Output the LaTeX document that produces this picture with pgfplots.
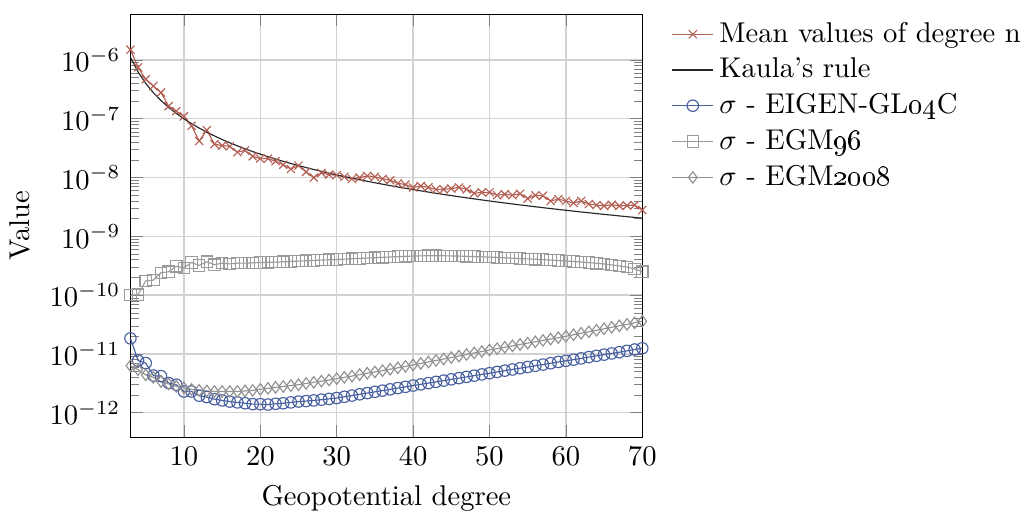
\documentclass[border=0pt]{standalone}
\usepackage{pgfplots}
\usepackage{pgfplotstable}
\pgfplotsset{compat=1.18}
\definecolor{cred}{RGB}{180,96,84}
\definecolor{cblue}{RGB}{72,96,160}
\definecolor{cgray}{RGB}{155,155,155}
\definecolor{cgrayd}{RGB}{145,145,145}
\pgfplotstableread{
n mean kaula eigen egm96 egm08
3 1.5e-6 1.111e-6 1.84e-11 1.00e-10 6.3e-12
4 7.5e-7 6.250e-7 7.7e-12 1.02e-10 5.4e-12
5 4.7e-7 4.000e-7 7.0e-12 1.75e-10 4.4e-12
6 3.6e-7 2.778e-7 4.3e-12 1.80e-10 4.0e-12
7 2.8e-7 2.041e-7 4.2e-12 2.40e-10 3.4e-12
8 1.64e-7 1.563e-7 3.2e-12 2.50e-10 3.1e-12
9 1.35e-7 1.235e-7 3.0e-12 3.10e-10 2.8e-12
10 1.1e-7 1.000e-7 2.3e-12 2.90e-10 2.65e-12
11 7.6e-8 8.264e-8 2.3e-12 3.60e-10 2.5e-12
12 4.2e-8 6.944e-8 1.95e-12 3.20e-10 2.4e-12
13 6.4e-8 5.917e-8 1.85e-12 3.70e-10 2.35e-12
14 3.7e-8 5.102e-8 1.7e-12 3.30e-10 2.3e-12
15 3.5e-8 4.444e-8 1.62e-12 3.50e-10 2.3e-12
16 3.4e-8 3.906e-8 1.55e-12 3.40e-10 2.3e-12
17 2.7e-8 3.460e-8 1.5e-12 3.50e-10 2.3e-12
18 2.9e-8 3.086e-8 1.45e-12 3.50e-10 2.35e-12
19 2.3e-8 2.770e-8 1.4e-12 3.55e-10 2.4e-12
20 2.1e-8 2.500e-8 1.4e-12 3.60e-10 2.5e-12
21 2.1e-8 2.268e-8 1.38e-12 3.62e-10 2.6e-12
22 1.9e-8 2.066e-8 1.42e-12 3.65e-10 2.7e-12
23 1.65e-8 1.890e-8 1.45e-12 3.70e-10 2.8e-12
24 1.4e-8 1.736e-8 1.5e-12 3.75e-10 2.9e-12
25 1.6e-8 1.600e-8 1.55e-12 3.80e-10 3.0e-12
26 1.25e-8 1.479e-8 1.58e-12 3.85e-10 3.15e-12
27 1.0e-8 1.372e-8 1.62e-12 3.90e-10 3.3e-12
28 1.2e-8 1.276e-8 1.67e-12 3.95e-10 3.45e-12
29 1.12e-8 1.189e-8 1.72e-12 4.00e-10 3.6e-12
30 1.1e-8 1.111e-8 1.78e-12 4.05e-10 3.8e-12
31 1.03e-8 1.041e-8 1.87e-12 4.10e-10 4.0e-12
32 9.5e-9 9.766e-9 1.96e-12 4.16e-10 4.2e-12
33 1.0e-8 9.183e-9 2.06e-12 4.22e-10 4.45e-12
34 1.07e-8 8.651e-9 2.16e-12 4.28e-10 4.7e-12
35 1.03e-8 8.163e-9 2.27e-12 4.34e-10 4.95e-12
36 9.5e-9 7.716e-9 2.38e-12 4.40e-10 5.2e-12
37 9.0e-9 7.305e-9 2.5e-12 4.46e-10 5.5e-12
38 8.0e-9 6.925e-9 2.63e-12 4.52e-10 5.8e-12
39 7.6e-9 6.575e-9 2.76e-12 4.58e-10 6.15e-12
40 6.8e-9 6.250e-9 2.9e-12 4.63e-10 6.5e-12
41 7.2e-9 5.949e-9 3.04e-12 4.66e-10 6.9e-12
42 6.8e-9 5.669e-9 3.19e-12 4.68e-10 7.3e-12
43 6.3e-9 5.408e-9 3.35e-12 4.68e-10 7.75e-12
44 6.3e-9 5.165e-9 3.52e-12 4.67e-10 8.2e-12
45 6.5e-9 4.938e-9 3.7e-12 4.65e-10 8.7e-12
46 6.8e-9 4.726e-9 3.88e-12 4.62e-10 9.2e-12
47 6.3e-9 4.527e-9 4.07e-12 4.58e-10 9.8e-12
48 5.4e-9 4.340e-9 4.28e-12 4.54e-10 1.04e-11
49 5.6e-9 4.165e-9 4.49e-12 4.49e-10 1.10e-11
50 5.6e-9 4.000e-9 4.7e-12 4.44e-10 1.17e-11
51 5.0e-9 3.845e-9 4.95e-12 4.38e-10 1.23e-11
52 5.2e-9 3.698e-9 5.2e-12 4.32e-10 1.30e-11
53 5.0e-9 3.560e-9 5.45e-12 4.26e-10 1.37e-11
54 5.3e-9 3.429e-9 5.72e-12 4.20e-10 1.45e-11
55 4.4e-9 3.306e-9 6.0e-12 4.14e-10 1.53e-11
56 5.0e-9 3.189e-9 6.3e-12 4.08e-10 1.61e-11
57 4.9e-9 3.078e-9 6.6e-12 4.02e-10 1.70e-11
58 4.0e-9 2.973e-9 6.95e-12 3.95e-10 1.79e-11
59 4.3e-9 2.873e-9 7.3e-12 3.88e-10 1.89e-11
60 4.0e-9 2.778e-9 7.65e-12 3.81e-10 2.00e-11
61 3.7e-9 2.687e-9 8.0e-12 3.74e-10 2.12e-11
62 4.0e-9 2.601e-9 8.4e-12 3.66e-10 2.25e-11
63 3.55e-9 2.520e-9 8.85e-12 3.58e-10 2.38e-11
64 3.4e-9 2.441e-9 9.3e-12 3.49e-10 2.53e-11
65 3.3e-9 2.367e-9 9.75e-12 3.39e-10 2.68e-11
66 3.45e-9 2.296e-9 1.02e-11 3.27e-10 2.84e-11
67 3.3e-9 2.228e-9 1.07e-11 3.14e-10 3.01e-11
68 3.35e-9 2.163e-9 1.13e-11 2.99e-10 3.19e-11
69 3.4e-9 2.100e-9 1.19e-11 2.80e-10 3.39e-11
70 2.8e-9 2.041e-9 1.25e-11 2.50e-10 3.60e-11
}\datatable
\begin{document}
\begin{tikzpicture}
\begin{axis}[
  scale only axis,
  width=179pt, height=148pt,
  ymode=log,
  xmin=3, xmax=70,
  ymin=3.8e-13, ymax=6e-6,
  xtick={10,20,30,40,50,60,70},
  ytick={1e-12,1e-11,1e-10,1e-9,1e-8,1e-7,1e-6},
  grid=major,
  major grid style={gray!35, line width=0.5pt},
  xlabel={Geopotential degree},
  ylabel={Value},
  legend style={at={(1.04,1.01)}, anchor=north west, draw=none, fill=none, cells={anchor=west}},
  legend cell align=left,
  legend image code/.code={\draw[#1] (0cm,0cm) -- (0.5cm,0cm); \draw[#1, only marks] plot coordinates {(0.25cm,0cm)};},
  every axis plot/.append style={line width=0.4pt},
]
\addplot[cred, mark=x, mark size=2pt] table[x=n, y=mean] {\datatable};
\addlegendentry{Mean values of degree n}
\addplot[black!85, no marks] table[x=n, y=kaula] {\datatable};
\addlegendentry{Kaula's rule}
\addplot[cblue, mark=o, mark size=2pt] table[x=n, y=eigen] {\datatable};
\addlegendentry{$\sigma$ - EIGEN-GL\oldstylenums{04}C}
\addplot[cgray, mark=square, mark size=2pt] table[x=n, y=egm96] {\datatable};
\addlegendentry{$\sigma$ - EGM\oldstylenums{96}}
\addplot[cgrayd, mark=diamond, mark size=2pt] table[x=n, y=egm08] {\datatable};
\addlegendentry{$\sigma$ - EGM\oldstylenums{2008}}
\end{axis}
\path ([yshift=3.7pt]current bounding box.north) -- ([yshift=-3pt]current bounding box.south);
\end{tikzpicture}
\end{document}
